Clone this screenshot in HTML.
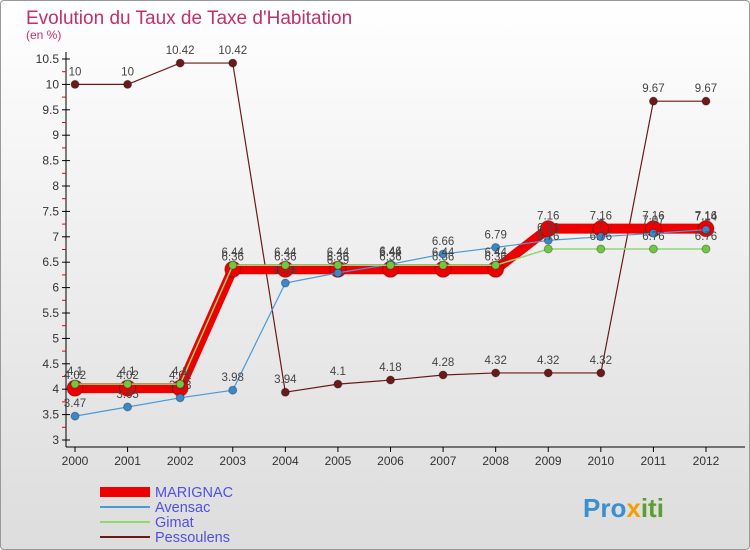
<!DOCTYPE html>
<html><head><meta charset="utf-8"><style>
body{margin:0;width:750px;height:550px;overflow:hidden;font-family:"Liberation Sans",sans-serif}
#c{position:absolute;left:0;top:0;width:748px;height:548px;border:1px solid #999;border-radius:4px;background:linear-gradient(#fff,#e6e6e6 70%,#ddd)}
</style></head><body>
<div id="c"></div>
<svg id="s" width="750" height="550" style="position:absolute;left:0;top:0" font-family="Liberation Sans, sans-serif">
<text x="26" y="24" font-size="19" fill="#c0306a">Evolution du Taux de Taxe d'Habitation</text>
<text x="26" y="39" font-size="12" fill="#c0306a">(en %)</text>
<g id="axes"></g><g id="series"></g><g id="legend"></g>
<text x="583" y="517" font-size="26" font-weight="bold" fill="#3a8fd0">Pro<tspan fill="#f0a000">x</tspan><tspan fill="#5aa030">iti</tspan></text>
</svg>
<script>
const years=[2000,2001,2002,2003,2004,2005,2006,2007,2008,2009,2010,2011,2012];
const yTicks=[3,3.5,4,4.5,5,5.5,6,6.5,7,7.5,8,8.5,9,9.5,10,10.5];
const marignac=[4.02,4.02,4.02,6.36,6.36,6.36,6.36,6.36,6.36,7.16,7.16,7.16,7.16];
const avensac=[3.47,3.65,3.83,3.98,6.09,6.29,6.46,6.66,6.79,6.93,7,7.07,7.14];
const gimat=[4.1,4.1,4.1,6.44,6.44,6.44,6.44,6.44,6.44,6.76,6.76,6.76,6.76];
const pessoulens=[10,10,10.42,10.42,3.94,4.1,4.18,4.28,4.32,4.32,4.32,9.67,9.67];
const NS="http://www.w3.org/2000/svg";
function X(i){return 75+(706-75)*i/(years.length-1);}
function Y(v){return 440-(v-3)*(440-59)/7.5;}
function mk(t,a,p){const e=document.createElementNS(NS,t);for(const k in a)e.setAttribute(k,a[k]);p.appendChild(e);return e;}
const ax=document.getElementById('axes');
const yl=mk('line',{x1:66,y1:52,x2:66,y2:447,stroke:'#000'},ax);


const xl=mk('line',{x1:66,y1:447,x2:745,y2:447,stroke:'#000'},ax);


yTicks.forEach((v,i)=>{const y=Y(v);mk('line',{x1:62,y1:y,x2:70,y2:y,stroke:'#000'},ax);
 if(i<yTicks.length-1)mk('line',{x1:62,y1:Y(v+0.25),x2:66,y2:Y(v+0.25),stroke:'#e00'},ax);
 const t=mk('text',{x:59,y:y+4,'font-size':12,'text-anchor':'end',fill:'#333'},ax);t.textContent=String(v);
 
 });
years.forEach((yr,i)=>{const x=X(i);mk('line',{x1:x,y1:447,x2:x,y2:452,stroke:'#000'},ax);
 const t=mk('text',{x:x,y:465,'font-size':12,'text-anchor':'middle',fill:'#333'},ax);t.textContent=yr;
 
 });
const sg=document.getElementById('series');
function draw(name,vals,color,w,r,dot){
 const g=mk('g',{},sg);
 
 
 mk('polyline',{points:vals.map((v,i)=>X(i)+','+Y(v)).join(' '),fill:'none',stroke:color,'stroke-width':w},g);
 vals.forEach((v,i)=>{const c=mk('circle',{cx:X(i),cy:Y(v),r:r,fill:dot,stroke:'rgba(0,0,0,0.3)'},g);
  
  
  const t=mk('text',{x:X(i),y:Y(v)-9,'font-size':11.5,'text-anchor':'middle',fill:'#444'},g);t.textContent=String(v);
  
  });
}
draw('pessoulens',pessoulens,'#6b1a1a',1.2,4,'#6b1a1a');
draw('marignac',marignac,'#ee0000',10,8,'#ee0000');
draw('avensac',avensac,'#4a9ad8',1.2,4,'#3a88c8');
draw('gimat',gimat,'#90d870',1.5,4,'#70c840');
const lg=document.getElementById('legend');
[['MARIGNAC','#ee0000',10],['Avensac','#4a9ad8',2],['Gimat','#90d870',2],['Pessoulens','#6b1a1a',2]].forEach((d,i)=>{
 const y=492+i*15;
 const g=mk('g',{},lg);
 
 
 mk('line',{x1:100,y1:y,x2:150,y2:y,stroke:d[1],'stroke-width':d[2]},g);
 const t=mk('text',{x:155,y:y+5,'font-size':14.5,fill:'#5050e0'},g);t.textContent=d[0];});
</script>
</body></html>
